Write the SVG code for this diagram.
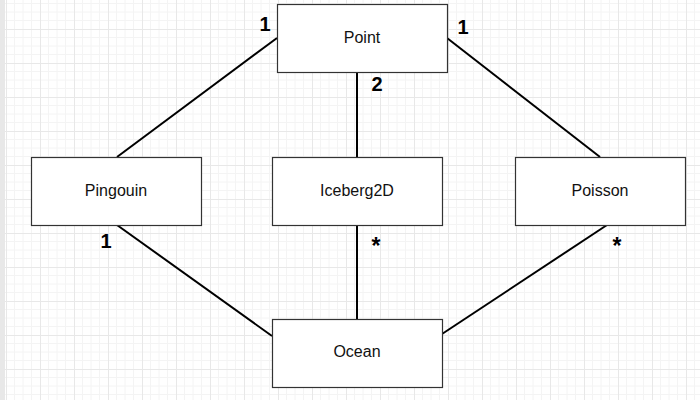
<svg xmlns="http://www.w3.org/2000/svg" width="700" height="400" viewBox="0 0 700 400">
  <defs>
    <pattern id="grid" patternUnits="userSpaceOnUse" x="6" y="29" width="34" height="34">
      <path d="M8.5 0V34M17 0V34M25.5 0V34M0 8.5H34M0 17H34M0 25.5H34" stroke="#f4f4f4" stroke-width="1" fill="none"/>
      <path d="M0.5 0V34M0 0.5H34" stroke="#e8e8e8" stroke-width="1" fill="none"/>
    </pattern>
    <style>
      .box { fill: #ffffff; stroke: #333333; stroke-width: 1.2; }
      .lbl { font-family: "Liberation Sans", Arial, sans-serif; font-size: 16px; fill: #111111; text-anchor: middle; }
      .mult { font-family: "Liberation Sans", Arial, sans-serif; font-size: 20px; font-weight: bold; fill: #000000; text-anchor: middle; }
      .star { font-size: 23px; }
      .conn { stroke: #000000; stroke-width: 2; fill: none; }
    </style>
  </defs>
  <rect x="0" y="0" width="700" height="400" fill="#ffffff"/>
  <rect x="0" y="0" width="700" height="400" fill="url(#grid)"/>
  <rect x="0" y="0" width="5" height="400" fill="#e8e8e8"/>

  <g id="connectors">
    <line class="conn" x1="277" y1="38" x2="117" y2="157"/>
    <line class="conn" x1="447" y1="38" x2="600" y2="157"/>
    <line class="conn" x1="357" y1="72" x2="357" y2="157"/>
    <line class="conn" x1="117" y1="225" x2="272" y2="336"/>
    <line class="conn" x1="357" y1="225" x2="357" y2="319"/>
    <line class="conn" x1="607" y1="225" x2="442" y2="334"/>
    <text class="mult" x="265" y="31">1</text>
    <text class="mult" x="463" y="34">1</text>
    <text class="mult" x="377" y="91">2</text>
    <text class="mult" x="106" y="248">1</text>
    <text class="mult star" x="376" y="254">*</text>
    <text class="mult star" x="617" y="254">*</text>
  </g>

  <g id="point">
    <rect class="box" x="277.5" y="4.5" width="170" height="68"/>
    <text class="lbl" x="362" y="42.5">Point</text>
  </g>
  <g id="pingouin">
    <rect class="box" x="31.5" y="157.5" width="170" height="68"/>
    <text class="lbl" x="116" y="195.5">Pingouin</text>
  </g>
  <g id="iceberg2d">
    <rect class="box" x="272.5" y="157.5" width="170" height="68"/>
    <text class="lbl" x="357" y="195.5">Iceberg2D</text>
  </g>
  <g id="poisson">
    <rect class="box" x="515.5" y="157.5" width="170" height="68"/>
    <text class="lbl" x="600" y="195.5">Poisson</text>
  </g>
  <g id="ocean">
    <rect class="box" x="272.5" y="319.5" width="170" height="68"/>
    <text class="lbl" x="357" y="357">Ocean</text>
  </g>
</svg>
